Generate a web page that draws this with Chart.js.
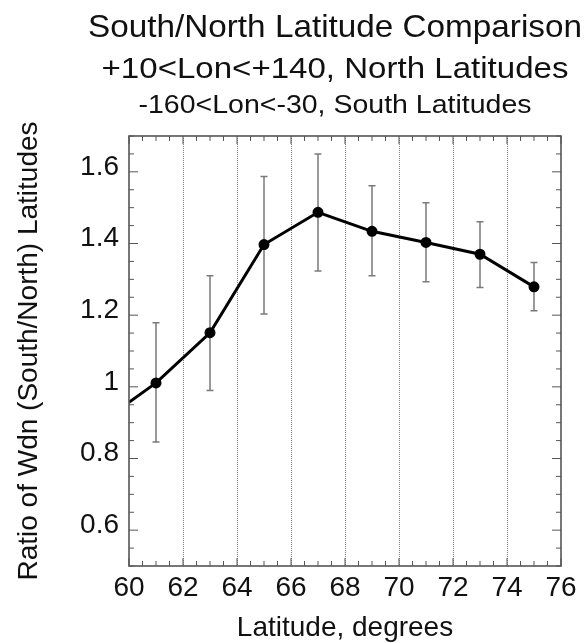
<!DOCTYPE html>
<html>
<head>
<meta charset="utf-8">
<script src="https://cdn.jsdelivr.net/npm/chart.js@4.4.1/dist/chart.umd.min.js"></script>
<style>
  html, body { margin: 0; padding: 0; background: #fff; }
  #wrap { width: 588px; height: 643px; }
</style>
</head>
<body>
<div id="wrap"><canvas id="chart"></canvas></div>
<script>
// values
const latitudes = [60, 61, 63, 65, 67, 69, 71, 73, 75];
const ratios    = [0.957, 1.011, 1.151, 1.397, 1.487, 1.434, 1.403, 1.370, 1.279];
const errHigh   = [null, 1.179, 1.310, 1.587, 1.650, 1.561, 1.514, 1.461, 1.347];
const errLow    = [null, 0.846, 0.990, 1.203, 1.323, 1.310, 1.293, 1.277, 1.212];
const pointSizes = [0, 4, 4, 4, 4, 4, 4, 4, 4];

const xTickLabels = [60, 62, 64, 66, 68, 70, 72, 74, 76];
const yTickLabels = [0.6, 0.8, 1, 1.2, 1.4, 1.6];

const titleLines = [
    'South/North Latitude Comparison',
    '+10<Lon<+140, North Latitudes',
    '-160<Lon<-30, South Latitudes'
];
const titleSizes = [32, 29, 25];
const titleStretch = [1.04, 1.14, 1.14];
const titleBaselines = [37, 78, 113];

const FONT = '"Liberation Sans", Arial, Helvetica, sans-serif';
const TEXT = '#111';

// three title lines, each with its own size (the original type is a bit wide)
const titleBlock = {
    id: 'titleBlock',
    afterDraw(chart) {
        const ctx = chart.ctx;
        ctx.save();
        ctx.fillStyle = TEXT;
        ctx.textAlign = 'center';
        ctx.textBaseline = 'alphabetic';
        titleLines.forEach((line, i) => {
            ctx.save();
            ctx.translate(335, titleBaselines[i]);
            ctx.scale(titleStretch[i], 1);
            ctx.font = titleSizes[i] + 'px ' + FONT;
            ctx.fillText(line, 0, 0);
            ctx.restore();
        });
        ctx.restore();
    }
};

// error bars, drawn under the line
const errorBars = {
    id: 'errorBars',
    beforeDatasetsDraw(chart) {
        const { ctx, scales: { x, y } } = chart;
        ctx.save();
        ctx.strokeStyle = '#7a7a7a';
        ctx.lineWidth = 1.5;
        latitudes.forEach((lat, i) => {
            if (errHigh[i] == null) return;
            const px = x.getPixelForValue(lat);
            const top = y.getPixelForValue(errHigh[i]);
            const bot = y.getPixelForValue(errLow[i]);
            ctx.beginPath();
            ctx.moveTo(px, top); ctx.lineTo(px, bot);
            ctx.moveTo(px - 3.5, top); ctx.lineTo(px + 3.5, top);
            ctx.moveTo(px - 3.5, bot); ctx.lineTo(px + 3.5, bot);
            ctx.stroke();
        });
        ctx.restore();
    }
};

// frame with inward ticks on all four sides
const frame = {
    id: 'frame',
    afterDraw(chart) {
        const { ctx, chartArea: a, scales: { x, y } } = chart;
        ctx.save();
        ctx.strokeStyle = '#555';
        ctx.lineWidth = 1;
        ctx.beginPath();
        const xn = Math.round((x.max - x.min) / 0.5);
        for (let i = 0; i <= xn; i++) {
            const v = x.min + i * 0.5;
            const px = x.getPixelForValue(v);
            const len = (v % 2 === 0) ? 8 : 5;
            ctx.moveTo(px, a.bottom); ctx.lineTo(px, a.bottom - len);
            ctx.moveTo(px, a.top); ctx.lineTo(px, a.top + len);
        }
        const yn = Math.round((y.max - y.min) / 0.05);
        for (let i = 0; i <= yn; i++) {
            const v = Math.round((y.min + i * 0.05) * 100) / 100;
            const py = y.getPixelForValue(v);
            const len = yTickLabels.includes(v) ? 9 : 5;
            ctx.moveTo(a.left, py); ctx.lineTo(a.left + len, py);
            ctx.moveTo(a.right, py); ctx.lineTo(a.right - len, py);
        }
        ctx.stroke();
        ctx.lineWidth = 1.6;
        ctx.strokeRect(a.left, a.top, a.right - a.left, a.bottom - a.top);
        ctx.restore();
    }
};

new Chart(document.getElementById('chart'), {
    type: 'scatter',
    data: {
        datasets: [{
            data: latitudes.map((lat, i) => ({ x: lat, y: ratios[i] })),
            showLine: true,
            borderColor: '#000',
            borderWidth: 3,
            pointRadius: pointSizes,
            pointBackgroundColor: '#000',
            pointBorderColor: '#000',
            tension: 0
        }]
    },
    options: {
        responsive: true,
        maintainAspectRatio: false,
        animation: false,
        layout: { padding: { left: 0, right: 27, top: 136, bottom: 0 } },
        plugins: {
            legend: { display: false },
            tooltip: { enabled: false },
            title: { display: false }
        },
        scales: {
            x: {
                type: 'linear',
                min: 60,
                max: 76,
                afterFit(scale) { scale.height = 77; },
                ticks: {
                    stepSize: 2,
                    autoSkip: false,
                    maxRotation: 0,
                    padding: 5,
                    color: TEXT,
                    font: { family: FONT, size: 28 },
                    callback: v => xTickLabels.includes(v) ? String(v) : ''
                },
                grid: {
                    drawTicks: false,
                    lineWidth: 1,
                    color: ctx => (ctx.tick && (ctx.tick.value === 60 || ctx.tick.value === 76)) ? 'rgba(0,0,0,0)' : '#808080'
                },
                border: { display: false, dash: [1, 1] },
                title: {
                    display: true,
                    text: 'Latitude, degrees',
                    color: TEXT,
                    font: { family: FONT, size: 28, lineHeight: 1.0 },
                    padding: { top: 0, bottom: 0.5 }
                }
            },
            y: {
                min: 0.5,
                max: 1.7,
                afterFit(scale) { scale.width = 129; },
                ticks: {
                    stepSize: 0.1,
                    autoSkip: false,
                    padding: 10,
                    labelOffset: -5,
                    color: TEXT,
                    font: { family: FONT, size: 28 },
                    callback: value => {
                        const v = Math.round(value * 10) / 10;
                        return yTickLabels.includes(v) ? String(v) : '';
                    }
                },
                grid: { display: false, drawTicks: false },
                border: { display: false },
                title: {
                    display: true,
                    text: 'Ratio of Wdn (South/North) Latitudes',
                    color: TEXT,
                    font: { family: FONT, size: 28, lineHeight: 1.2 },
                    padding: { top: 12.5, bottom: 0 }
                }
            }
        }
    },
    plugins: [errorBars, frame, titleBlock]
});
</script>
</body>
</html>
